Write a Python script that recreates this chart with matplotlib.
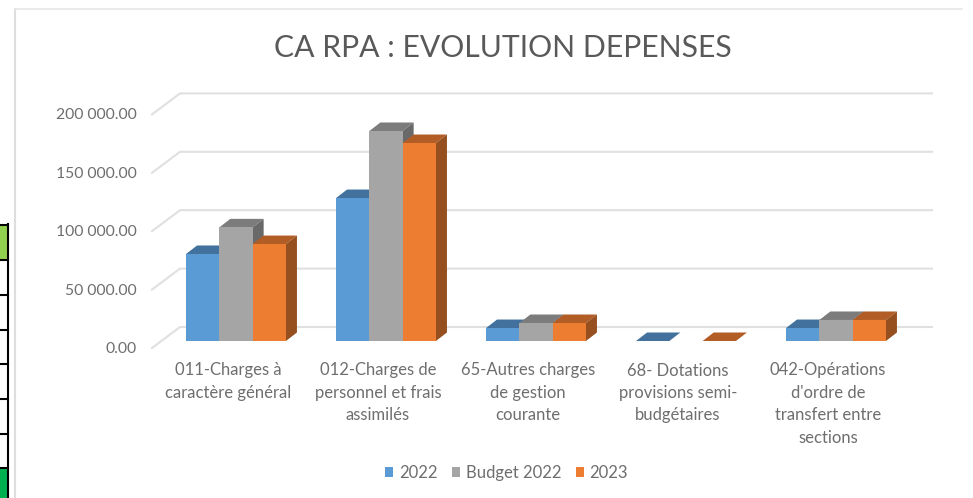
import matplotlib
matplotlib.use("Agg")
import matplotlib.pyplot as plt
from matplotlib.patches import Polygon, Rectangle, Patch
import numpy as np

plt.rcParams['font.family'] = ['Lato', 'DejaVu Sans']

categories = ["011-Charges à\ncaractère général",
              "012-Charges de\npersonnel et frais\nassimilés",
              "65-Autres charges\nde gestion\ncourante",
              "68- Dotations\nprovisions semi-\nbudgétaires",
              "042-Opérations\nd'ordre de\ntransfert entre\nsections"]
series_names = ["2022", "Budget 2022", "2023"]
values_2022 = [74500, 122400, 11100, 0, 11100]
values_budget = [97300, 179800, 15400, np.nan, 18000]
values_2023 = [83000, 169500, 15400, 0, 18000]
y_ticks = [0, 50000, 100000, 150000, 200000]
y_tick_labels = ["0.00", "50 000.00", "100 000.00", "150 000.00", "200 000.00"]

front = ["#5B9BD5", "#A5A5A5", "#ED7D31"]
top = ["#41719C", "#7C7C7C", "#B25D25"]
side = ["#37608A", "#696969", "#964F1E"]
TXT = "#6E6E6E"
GRID = "#E0E0E0"

W, H = 973, 498
fig = plt.figure(figsize=(W / 100, H / 100), dpi=100)
ax = fig.add_axes([0, 0, 1, 1])
ax.axis("off")
# scales: one category = 150 px; 50 000 = 58.4 px; origin at first group / baseline
XPX = 150.0
YPX = 58.4 / 50000
x0px, y0px = 236.0, 341.0
ax.set_xlim(-x0px / XPX, (W - x0px) / XPX)
ax.set_ylim(-(H - y0px) / YPX, y0px / YPX)
px = lambda v: v / XPX
py = lambda v: v / YPX

# chart frame and the spreadsheet cells behind it
fig.add_artist(plt.Line2D([15/W, 15/W], [0, 1 - 9/H], color="#DEDEDE", lw=1.5))
fig.add_artist(plt.Line2D([15/W, 962/W], [1 - 9/H, 1 - 9/H], color="#E6E6E6", lw=1.2))
fig.add_artist(Rectangle((0, 1 - 260/H), 8/W, 35/H, transform=fig.transFigure, fc="#92D050", ec="none"))
fig.add_artist(Rectangle((0, 0), 8/W, 30/H, transform=fig.transFigure, fc="#00B050", ec="none"))
for yy in [225, 260, 295, 330, 364, 399, 434, 468]:
    fig.add_artist(plt.Line2D([0, 8/W], [1 - yy/H] * 2, color="black", lw=1.5))
fig.add_artist(plt.Line2D([8/W, 8/W], [0, 1 - 224/H], color="black", lw=1.5))

# gridlines on floor/back wall
left_x = ax.get_xlim()[0] + px(152)
back_x = ax.get_xlim()[0] + px(180)
right_x = ax.get_xlim()[0] + px(932)
for t, lab in zip(y_ticks, y_tick_labels):
    ax.plot([left_x, back_x, right_x],
            [t - py(7), t + py(14), t + py(14)], color=GRID, lw=1.5, zorder=1,
            solid_joinstyle="miter")
    ax.text(ax.get_xlim()[0] + px(136.5), t - py(8), lab, ha="right", va="center",
            fontsize=11.3, color=TXT)

# bars
bw = px(33.3)
dx, dy = px(11), py(8.5)
all_values = [values_2022, values_budget, values_2023]
for i in range(len(categories)):
    for s, vals in enumerate(all_values):
        v = vals[i]
        if np.isnan(v):
            continue
        xl = i + (s - 1.5) * bw
        xr = xl + bw
        z = 3 + i + s * 0.1
        ax.add_patch(Polygon([(xl, v), (xr, v), (xr + dx, v + dy), (xl + dx, v + dy)],
                             fc=top[s], ec="none", zorder=z))
        if v > 0:
            ax.add_patch(Polygon([(xr, 0), (xr + dx, dy), (xr + dx, v + dy), (xr, v)],
                                 fc=side[s], ec="none", zorder=z))
            ax.bar(xl, v, width=bw, align="edge", color=front[s], zorder=z + 0.01)

# category labels
for i, c in enumerate(categories):
    ax.text(i - px(8), -py(21.5), c, ha="center", va="top", fontsize=12, color=TXT,
            linespacing=1.49)

ax.text(ax.get_xlim()[0] + px(502.5), py(341 - 48), "CA RPA : EVOLUTION DEPENSES", ha="center",
        va="center", fontsize=21.7, color="#595959")

handles = [Patch(fc=c, ec="none") for c in front]
leg = ax.legend(handles, series_names, ncol=3, frameon=False, loc="center",
                bbox_to_anchor=(506.5 / W, 1 - 473 / H), bbox_transform=fig.transFigure,
                fontsize=12, labelcolor=TXT, handlelength=0.5, handleheight=0.6,
                handletextpad=0.35, columnspacing=0.85)

fig.savefig("out.png", dpi=100, facecolor="white")
